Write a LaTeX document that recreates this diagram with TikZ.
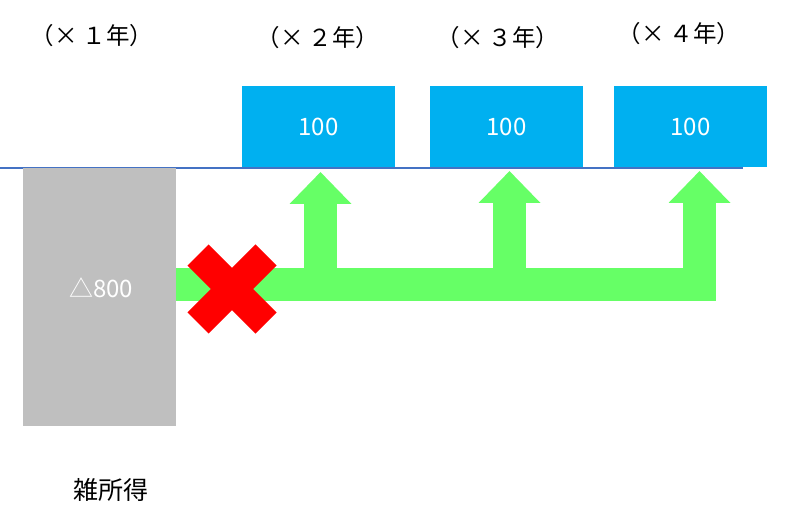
\documentclass[tikz,border=0pt]{standalone}
\usepackage{fontspec}
\setmainfont{Noto Sans CJK JP}
\usetikzlibrary{arrows.meta,positioning,calc}
\definecolor{lossgray}{RGB}{191,191,191}
\definecolor{boxblue}{RGB}{0,176,240}
\definecolor{flowgreen}{RGB}{102,255,102}
\definecolor{baseblue}{RGB}{68,114,196}

\begin{document}
\begin{tikzpicture}[
    x=1pt, y=-1pt,
    yearbox/.style={fill=boxblue, inner sep=0pt, minimum width=153pt,
                    minimum height=81pt, text=white,
                    font=\fontsize{24}{24}\selectfont},
    yearlbl/.style={font=\fontsize{23.5}{23.5}\selectfont},
    flow/.style={flowgreen, line width=33pt,
                 -{Triangle[width=60pt,length=32pt]}},
    cross/.style={red, line width=30pt}
  ]
  \useasboundingbox (0,0) rectangle (805,510);
  % year labels
  \node[yearlbl] (yr1) at (92,36) {（× １年）};
  \node[yearlbl] (yr2) at (318,38) {（× ２年）};
  \node[yearlbl] (yr3) at (498,38) {（× ３年）};
  \node[yearlbl] (yr4) at (679,34) {（× ４年）};
  % income boxes
  \node[yearbox] (inc2) at (318.5,126.5) {100};
  \node[yearbox] (inc3) at (506.5,126.5) {100};
  \node[yearbox] (inc4) at (690.5,126.5) {100};
  % base line
  \draw[baseblue, line width=1.5pt] (0,168) -- (743,168);
  % loss
  \node[fill=lossgray, inner sep=0pt, minimum width=153pt,
        minimum height=258pt, anchor=north west] (loss) at (23,168) {};
  \node[text=white, font=\fontsize{24}{24}\selectfont] (lossval)
    at (101,288) {△800};
  \node[font=\fontsize{25}{25}\selectfont] (kind) at (111,490) {雑所得};
  % carry forward
  \coordinate (bandend) at (716,301);
  \fill[flowgreen] (loss.east |- 0,268) rectangle (bandend);
  \coordinate (tip2) at (320.5,172);
  \coordinate (tip3) at (509.5,171);
  \coordinate (tip4) at (699.5,171);
  \foreach \t in {tip2,tip3,tip4}
    \draw[flow] (\t |- bandend) -- (\t);
  % blocked year 1
  \coordinate (block) at (232,289);
  \draw[cross] ($(block)+(-34,-34)$) -- ($(block)+(34,34)$)
               ($(block)+(34,-34)$) -- ($(block)+(-34,34)$);
\end{tikzpicture}
\end{document}
